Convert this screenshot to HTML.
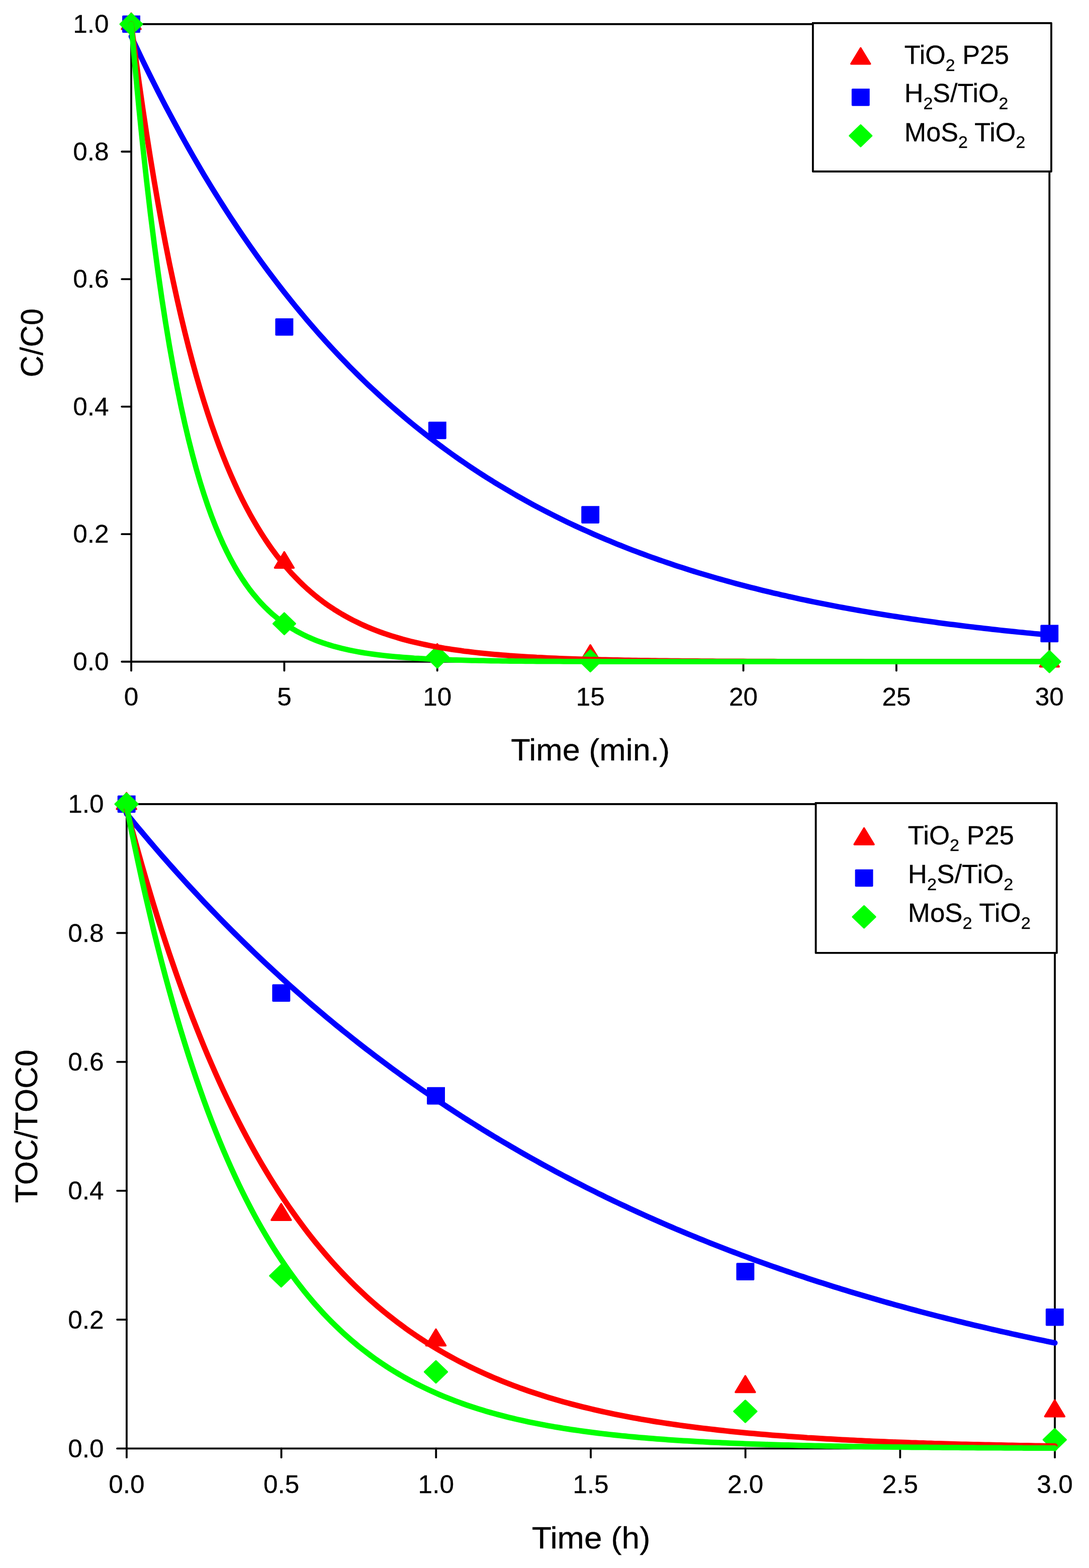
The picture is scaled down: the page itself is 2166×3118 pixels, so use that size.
<!DOCTYPE html>
<html lang="en">
<head>
<meta charset="utf-8">
<title>Degradation and mineralization kinetics</title>
<style>
html,body{margin:0;padding:0;background:#fff;}
body{width:2166px;height:3118px;}
svg{display:block;font-family:"Liberation Sans", sans-serif;}
text{fill:#000;stroke:#000;stroke-width:0.3px;white-space:pre;}
</style>
</head>
<body>
<svg width="2166" height="3118" viewBox="0 0 2166 3118">
<rect width="2166" height="3118" fill="#fff"/>
<g id="chart-c">
<g stroke="#000" stroke-width="3.85" stroke-linecap="round" fill="none">
<path d="M261.05 48.00H2087.30V1315.70H261.05Z" stroke-linejoin="miter"/>
<path d="M261.05 1315.70v17.75"/>
<path d="M565.43 1315.70v17.75"/>
<path d="M869.80 1315.70v17.75"/>
<path d="M1174.18 1315.70v17.75"/>
<path d="M1478.55 1315.70v17.75"/>
<path d="M1782.93 1315.70v17.75"/>
<path d="M2087.30 1315.70v17.75"/>
<path d="M261.05 1315.70h-18.80"/>
<path d="M261.05 1062.16h-18.80"/>
<path d="M261.05 808.62h-18.80"/>
<path d="M261.05 555.08h-18.80"/>
<path d="M261.05 301.54h-18.80"/>
<path d="M261.05 48.00h-18.80"/>
</g>
<text transform="translate(261.05 1403.00) scale(1.0270 1.0180)" font-size="50.00px" text-anchor="middle">0</text>
<text transform="translate(565.43 1403.00) scale(1.0270 1.0180)" font-size="50.00px" text-anchor="middle">5</text>
<text transform="translate(869.80 1403.00) scale(1.0270 1.0180)" font-size="50.00px" text-anchor="middle">10</text>
<text transform="translate(1174.18 1403.00) scale(1.0270 1.0180)" font-size="50.00px" text-anchor="middle">15</text>
<text transform="translate(1478.55 1403.00) scale(1.0270 1.0180)" font-size="50.00px" text-anchor="middle">20</text>
<text transform="translate(1782.93 1403.00) scale(1.0270 1.0180)" font-size="50.00px" text-anchor="middle">25</text>
<text transform="translate(2087.30 1403.00) scale(1.0270 1.0180)" font-size="50.00px" text-anchor="middle">30</text>
<text transform="translate(216.50 1333.00) scale(1.0270 1.0180)" font-size="50.00px" text-anchor="end">0.0</text>
<text transform="translate(216.50 1079.46) scale(1.0270 1.0180)" font-size="50.00px" text-anchor="end">0.2</text>
<text transform="translate(216.50 825.92) scale(1.0270 1.0180)" font-size="50.00px" text-anchor="end">0.4</text>
<text transform="translate(216.50 572.38) scale(1.0270 1.0180)" font-size="50.00px" text-anchor="end">0.6</text>
<text transform="translate(216.50 318.84) scale(1.0270 1.0180)" font-size="50.00px" text-anchor="end">0.8</text>
<text transform="translate(216.50 65.30) scale(1.0270 1.0180)" font-size="50.00px" text-anchor="end">1.0</text>
<text transform="translate(1174.18 1511.80) scale(1.0500 1.0170)" font-size="60.00px" text-anchor="middle">Time (min.)</text>
<text transform="translate(84.85 681.85) rotate(-90) scale(1.0000 1.0400)" font-size="60.00px" text-anchor="middle">C/C0</text>
<path d="M261.05 26.50L280.00 57.90L242.10 57.90Z" fill="#ff0000" stroke="#ff0000" stroke-width="3.60" stroke-linejoin="round"/>
<path d="M565.43 1097.71L584.38 1129.11L546.48 1129.11Z" fill="#ff0000" stroke="#ff0000" stroke-width="3.60" stroke-linejoin="round"/>
<path d="M869.80 1280.76L888.75 1312.16L850.85 1312.16Z" fill="#ff0000" stroke="#ff0000" stroke-width="3.60" stroke-linejoin="round"/>
<path d="M1174.18 1282.79L1193.13 1314.19L1155.23 1314.19Z" fill="#ff0000" stroke="#ff0000" stroke-width="3.60" stroke-linejoin="round"/>
<path d="M2087.30 1294.20L2106.25 1325.60L2068.35 1325.60Z" fill="#ff0000" stroke="#ff0000" stroke-width="3.60" stroke-linejoin="round"/>
<path d="M277.20 32.50H244.90V63.50H277.20V32.50" fill="#0000ff" stroke="#0000ff" stroke-width="3.60" stroke-linejoin="round" stroke-linecap="square"/>
<path d="M581.58 634.78H549.27V665.78H581.58V634.78" fill="#0000ff" stroke="#0000ff" stroke-width="3.60" stroke-linejoin="round" stroke-linecap="square"/>
<path d="M885.95 840.41H853.65V871.41H885.95V840.41" fill="#0000ff" stroke="#0000ff" stroke-width="3.60" stroke-linejoin="round" stroke-linecap="square"/>
<path d="M1190.33 1008.12H1158.03V1039.12H1190.33V1008.12" fill="#0000ff" stroke="#0000ff" stroke-width="3.60" stroke-linejoin="round" stroke-linecap="square"/>
<path d="M2103.45 1244.42H2071.15V1275.42H2103.45V1244.42" fill="#0000ff" stroke="#0000ff" stroke-width="3.60" stroke-linejoin="round" stroke-linecap="square"/>
<path d="M261.05 26.95L282.75 48.00L261.05 69.05L239.35 48.00Z" fill="#00ff00" stroke="#00ff00" stroke-width="3.60" stroke-linejoin="round"/>
<path d="M565.43 1219.22L587.13 1240.27L565.43 1261.32L543.73 1240.27Z" fill="#00ff00" stroke="#00ff00" stroke-width="3.60" stroke-linejoin="round"/>
<path d="M869.80 1285.52L891.50 1306.57L869.80 1327.62L848.10 1306.57Z" fill="#00ff00" stroke="#00ff00" stroke-width="3.60" stroke-linejoin="round"/>
<path d="M1174.18 1293.00L1195.88 1314.05L1174.18 1335.10L1152.48 1314.05Z" fill="#00ff00" stroke="#00ff00" stroke-width="3.60" stroke-linejoin="round"/>
<path d="M2087.30 1294.65L2109.00 1315.70L2087.30 1336.75L2065.60 1315.70Z" fill="#00ff00" stroke="#00ff00" stroke-width="3.60" stroke-linejoin="round"/>
<polyline points="261.1,72.4 268.7,88.6 276.3,104.6 283.9,120.5 291.5,136.1 299.1,151.5 306.7,166.7 314.3,181.8 321.9,196.6 329.5,211.2 337.1,225.6 344.8,239.9 352.4,253.9 360.0,267.8 367.6,281.5 375.2,295.0 382.8,308.4 390.4,321.5 398.0,334.5 405.6,347.4 413.2,360.0 420.8,372.5 428.5,384.8 436.1,397.0 443.7,409.0 451.3,420.9 458.9,432.6 466.5,444.1 474.1,455.5 481.7,466.7 489.3,477.8 496.9,488.8 504.6,499.6 512.2,510.3 519.8,520.8 527.4,531.2 535.0,541.4 542.6,551.6 550.2,561.6 557.8,571.4 565.4,581.1 573.0,590.7 580.6,600.2 588.3,609.6 595.9,618.8 603.5,627.9 611.1,636.9 618.7,645.8 626.3,654.5 633.9,663.2 641.5,671.7 649.1,680.1 656.7,688.4 664.3,696.6 672.0,704.7 679.6,712.7 687.2,720.6 694.8,728.4 702.4,736.0 710.0,743.6 717.6,751.1 725.2,758.5 732.8,765.8 740.4,772.9 748.1,780.0 755.7,787.0 763.3,794.0 770.9,800.8 778.5,807.5 786.1,814.1 793.7,820.7 801.3,827.2 808.9,833.6 816.5,839.9 824.1,846.1 831.8,852.2 839.4,858.3 847.0,864.3 854.6,870.2 862.2,876.0 869.8,881.7 877.4,887.4 885.0,893.0 892.6,898.5 900.2,904.0 907.8,909.4 915.5,914.7 923.1,919.9 930.7,925.1 938.3,930.2 945.9,935.2 953.5,940.2 961.1,945.1 968.7,950.0 976.3,954.7 983.9,959.5 991.6,964.1 999.2,968.7 1006.8,973.2 1014.4,977.7 1022.0,982.1 1029.6,986.5 1037.2,990.8 1044.8,995.0 1052.4,999.2 1060.0,1003.4 1067.6,1007.5 1075.3,1011.5 1082.9,1015.5 1090.5,1019.4 1098.1,1023.3 1105.7,1027.1 1113.3,1030.9 1120.9,1034.6 1128.5,1038.3 1136.1,1041.9 1143.7,1045.5 1151.3,1049.0 1159.0,1052.5 1166.6,1055.9 1174.2,1059.3 1181.8,1062.7 1189.4,1066.0 1197.0,1069.2 1204.6,1072.5 1212.2,1075.6 1219.8,1078.8 1227.4,1081.9 1235.1,1084.9 1242.7,1087.9 1250.3,1090.9 1257.9,1093.9 1265.5,1096.8 1273.1,1099.6 1280.7,1102.4 1288.3,1105.2 1295.9,1108.0 1303.5,1110.7 1311.1,1113.4 1318.8,1116.0 1326.4,1118.6 1334.0,1121.2 1341.6,1123.8 1349.2,1126.3 1356.8,1128.7 1364.4,1131.2 1372.0,1133.6 1379.6,1136.0 1387.2,1138.3 1394.8,1140.6 1402.5,1142.9 1410.1,1145.2 1417.7,1147.4 1425.3,1149.6 1432.9,1151.8 1440.5,1153.9 1448.1,1156.0 1455.7,1158.1 1463.3,1160.2 1470.9,1162.2 1478.6,1164.2 1486.2,1166.2 1493.8,1168.2 1501.4,1170.1 1509.0,1172.0 1516.6,1173.9 1524.2,1175.7 1531.8,1177.6 1539.4,1179.4 1547.0,1181.1 1554.6,1182.9 1562.3,1184.6 1569.9,1186.4 1577.5,1188.0 1585.1,1189.7 1592.7,1191.4 1600.3,1193.0 1607.9,1194.6 1615.5,1196.2 1623.1,1197.7 1630.7,1199.3 1638.3,1200.8 1646.0,1202.3 1653.6,1203.8 1661.2,1205.2 1668.8,1206.7 1676.4,1208.1 1684.0,1209.5 1691.6,1210.9 1699.2,1212.3 1706.8,1213.6 1714.4,1215.0 1722.1,1216.3 1729.7,1217.6 1737.3,1218.9 1744.9,1220.1 1752.5,1221.4 1760.1,1222.6 1767.7,1223.8 1775.3,1225.0 1782.9,1226.2 1790.5,1227.4 1798.1,1228.5 1805.8,1229.7 1813.4,1230.8 1821.0,1231.9 1828.6,1233.0 1836.2,1234.1 1843.8,1235.2 1851.4,1236.2 1859.0,1237.2 1866.6,1238.3 1874.2,1239.3 1881.8,1240.3 1889.5,1241.3 1897.1,1242.2 1904.7,1243.2 1912.3,1244.1 1919.9,1245.1 1927.5,1246.0 1935.1,1246.9 1942.7,1247.8 1950.3,1248.7 1957.9,1249.6 1965.6,1250.4 1973.2,1251.3 1980.8,1252.1 1988.4,1253.0 1996.0,1253.8 2003.6,1254.6 2011.2,1255.4 2018.8,1256.2 2026.4,1257.0 2034.0,1257.7 2041.6,1258.5 2049.3,1259.2 2056.9,1260.0 2064.5,1260.7 2072.1,1261.4 2079.7,1262.1 2087.3,1262.8" fill="none" stroke="#0000ff" stroke-width="10.80" stroke-linecap="round" stroke-linejoin="round"/>
<polyline points="261.1,47.7 268.7,106.1 276.3,161.8 283.9,215.0 291.5,265.7 299.1,314.1 306.7,360.2 314.3,404.2 321.9,446.2 329.5,486.3 337.1,524.5 344.8,560.9 352.4,595.7 360.0,628.9 367.6,660.5 375.2,690.7 382.8,719.5 390.4,747.0 398.0,773.2 405.6,798.2 413.2,822.0 420.8,844.8 428.5,866.4 436.1,887.1 443.7,906.9 451.3,925.7 458.9,943.7 466.5,960.8 474.1,977.2 481.7,992.8 489.3,1007.6 496.9,1021.8 504.6,1035.4 512.2,1048.3 519.8,1060.6 527.4,1072.4 535.0,1083.6 542.6,1094.3 550.2,1104.5 557.8,1114.2 565.4,1123.5 573.0,1132.3 580.6,1140.8 588.3,1148.8 595.9,1156.5 603.5,1163.9 611.1,1170.9 618.7,1177.5 626.3,1183.9 633.9,1190.0 641.5,1195.8 649.1,1201.3 656.7,1206.6 664.3,1211.6 672.0,1216.4 679.6,1221.0 687.2,1225.3 694.8,1229.5 702.4,1233.5 710.0,1237.2 717.6,1240.9 725.2,1244.3 732.8,1247.6 740.4,1250.7 748.1,1253.7 755.7,1256.6 763.3,1259.3 770.9,1261.9 778.5,1264.4 786.1,1266.7 793.7,1269.0 801.3,1271.2 808.9,1273.2 816.5,1275.2 824.1,1277.0 831.8,1278.8 839.4,1280.5 847.0,1282.1 854.6,1283.7 862.2,1285.2 869.8,1286.6 877.4,1287.9 885.0,1289.2 892.6,1290.4 900.2,1291.6 907.8,1292.7 915.5,1293.7 923.1,1294.8 930.7,1295.7 938.3,1296.6 945.9,1297.5 953.5,1298.4 961.1,1299.2 968.7,1299.9 976.3,1300.6 983.9,1301.3 991.6,1302.0 999.2,1302.6 1006.8,1303.2 1014.4,1303.8 1022.0,1304.4 1029.6,1304.9 1037.2,1305.4 1044.8,1305.9 1052.4,1306.3 1060.0,1306.7 1067.6,1307.2 1075.3,1307.5 1082.9,1307.9 1090.5,1308.3 1098.1,1308.6 1105.7,1308.9 1113.3,1309.3 1120.9,1309.6 1128.5,1309.8 1136.1,1310.1 1143.7,1310.4 1151.3,1310.6 1159.0,1310.8 1166.6,1311.1 1174.2,1311.3 1181.8,1311.5 1189.4,1311.7 1197.0,1311.9 1204.6,1312.0 1212.2,1312.2 1219.8,1312.4 1227.4,1312.5 1235.1,1312.7 1242.7,1312.8 1250.3,1312.9 1257.9,1313.1 1265.5,1313.2 1273.1,1313.3 1280.7,1313.4 1288.3,1313.5 1295.9,1313.6 1303.5,1313.7 1311.1,1313.8 1318.8,1313.9 1326.4,1314.0 1334.0,1314.1 1341.6,1314.1 1349.2,1314.2 1356.8,1314.3 1364.4,1314.3 1372.0,1314.4 1379.6,1314.5 1387.2,1314.5 1394.8,1314.6 1402.5,1314.6 1410.1,1314.7 1417.7,1314.7 1425.3,1314.8 1432.9,1314.8 1440.5,1314.9 1448.1,1314.9 1455.7,1314.9 1463.3,1315.0 1470.9,1315.0 1478.6,1315.0 1486.2,1315.1 1493.8,1315.1 1501.4,1315.1 1509.0,1315.1 1516.6,1315.2 1524.2,1315.2 1531.8,1315.2 1539.4,1315.2 1547.0,1315.3 1554.6,1315.3 1562.3,1315.3 1569.9,1315.3 1577.5,1315.3 1585.1,1315.4 1592.7,1315.4 1600.3,1315.4 1607.9,1315.4 1615.5,1315.4 1623.1,1315.4 1630.7,1315.4 1638.3,1315.5 1646.0,1315.5 1653.6,1315.5 1661.2,1315.5 1668.8,1315.5 1676.4,1315.5 1684.0,1315.5 1691.6,1315.5 1699.2,1315.5 1706.8,1315.5 1714.4,1315.5 1722.1,1315.6 1729.7,1315.6 1737.3,1315.6 1744.9,1315.6 1752.5,1315.6 1760.1,1315.6 1767.7,1315.6 1775.3,1315.6 1782.9,1315.6 1790.5,1315.6 1798.1,1315.6 1805.8,1315.6 1813.4,1315.6 1821.0,1315.6 1828.6,1315.6 1836.2,1315.6 1843.8,1315.6 1851.4,1315.6 1859.0,1315.6 1866.6,1315.6 1874.2,1315.6 1881.8,1315.6 1889.5,1315.6 1897.1,1315.6 1904.7,1315.7 1912.3,1315.7 1919.9,1315.7 1927.5,1315.7 1935.1,1315.7 1942.7,1315.7 1950.3,1315.7 1957.9,1315.7 1965.6,1315.7 1973.2,1315.7 1980.8,1315.7 1988.4,1315.7 1996.0,1315.7 2003.6,1315.7 2011.2,1315.7 2018.8,1315.7 2026.4,1315.7 2034.0,1315.7 2041.6,1315.7 2049.3,1315.7 2056.9,1315.7 2064.5,1315.7 2072.1,1315.7 2079.7,1315.7 2087.3,1315.7" fill="none" stroke="#ff0000" stroke-width="10.80" stroke-linecap="round" stroke-linejoin="round"/>
<polyline points="261.1,48.0 268.7,134.1 276.3,214.4 283.9,289.2 291.5,359.0 299.1,424.0 306.7,484.6 314.3,541.0 321.9,593.7 329.5,642.7 337.1,688.4 344.8,731.1 352.4,770.8 360.0,807.8 367.6,842.3 375.2,874.5 382.8,904.4 390.4,932.4 398.0,958.4 405.6,982.7 413.2,1005.3 420.8,1026.4 428.5,1046.1 436.1,1064.4 443.7,1081.5 451.3,1097.4 458.9,1112.2 466.5,1126.0 474.1,1138.9 481.7,1150.9 489.3,1162.1 496.9,1172.6 504.6,1182.3 512.2,1191.3 519.8,1199.8 527.4,1207.7 535.0,1215.0 542.6,1221.9 550.2,1228.2 557.8,1234.2 565.4,1239.7 573.0,1244.9 580.6,1249.7 588.3,1254.2 595.9,1258.3 603.5,1262.2 611.1,1265.9 618.7,1269.3 626.3,1272.4 633.9,1275.4 641.5,1278.1 649.1,1280.7 656.7,1283.0 664.3,1285.3 672.0,1287.3 679.6,1289.3 687.2,1291.0 694.8,1292.7 702.4,1294.3 710.0,1295.7 717.6,1297.1 725.2,1298.4 732.8,1299.5 740.4,1300.6 748.1,1301.7 755.7,1302.6 763.3,1303.5 770.9,1304.3 778.5,1305.1 786.1,1305.8 793.7,1306.5 801.3,1307.1 808.9,1307.7 816.5,1308.2 824.1,1308.8 831.8,1309.2 839.4,1309.7 847.0,1310.1 854.6,1310.5 862.2,1310.8 869.8,1311.1 877.4,1311.5 885.0,1311.7 892.6,1312.0 900.2,1312.3 907.8,1312.5 915.5,1312.7 923.1,1312.9 930.7,1313.1 938.3,1313.3 945.9,1313.4 953.5,1313.6 961.1,1313.7 968.7,1313.9 976.3,1314.0 983.9,1314.1 991.6,1314.2 999.2,1314.3 1006.8,1314.4 1014.4,1314.5 1022.0,1314.6 1029.6,1314.7 1037.2,1314.7 1044.8,1314.8 1052.4,1314.9 1060.0,1314.9 1067.6,1315.0 1075.3,1315.0 1082.9,1315.1 1090.5,1315.1 1098.1,1315.1 1105.7,1315.2 1113.3,1315.2 1120.9,1315.3 1128.5,1315.3 1136.1,1315.3 1143.7,1315.3 1151.3,1315.4 1159.0,1315.4 1166.6,1315.4 1174.2,1315.4 1181.8,1315.4 1189.4,1315.5 1197.0,1315.5 1204.6,1315.5 1212.2,1315.5 1219.8,1315.5 1227.4,1315.5 1235.1,1315.5 1242.7,1315.6 1250.3,1315.6 1257.9,1315.6 1265.5,1315.6 1273.1,1315.6 1280.7,1315.6 1288.3,1315.6 1295.9,1315.6 1303.5,1315.6 1311.1,1315.6 1318.8,1315.6 1326.4,1315.6 1334.0,1315.6 1341.6,1315.6 1349.2,1315.6 1356.8,1315.6 1364.4,1315.7 1372.0,1315.7 1379.6,1315.7 1387.2,1315.7 1394.8,1315.7 1402.5,1315.7 1410.1,1315.7 1417.7,1315.7 1425.3,1315.7 1432.9,1315.7 1440.5,1315.7 1448.1,1315.7 1455.7,1315.7 1463.3,1315.7 1470.9,1315.7 1478.6,1315.7 1486.2,1315.7 1493.8,1315.7 1501.4,1315.7 1509.0,1315.7 1516.6,1315.7 1524.2,1315.7 1531.8,1315.7 1539.4,1315.7 1547.0,1315.7 1554.6,1315.7 1562.3,1315.7 1569.9,1315.7 1577.5,1315.7 1585.1,1315.7 1592.7,1315.7 1600.3,1315.7 1607.9,1315.7 1615.5,1315.7 1623.1,1315.7 1630.7,1315.7 1638.3,1315.7 1646.0,1315.7 1653.6,1315.7 1661.2,1315.7 1668.8,1315.7 1676.4,1315.7 1684.0,1315.7 1691.6,1315.7 1699.2,1315.7 1706.8,1315.7 1714.4,1315.7 1722.1,1315.7 1729.7,1315.7 1737.3,1315.7 1744.9,1315.7 1752.5,1315.7 1760.1,1315.7 1767.7,1315.7 1775.3,1315.7 1782.9,1315.7 1790.5,1315.7 1798.1,1315.7 1805.8,1315.7 1813.4,1315.7 1821.0,1315.7 1828.6,1315.7 1836.2,1315.7 1843.8,1315.7 1851.4,1315.7 1859.0,1315.7 1866.6,1315.7 1874.2,1315.7 1881.8,1315.7 1889.5,1315.7 1897.1,1315.7 1904.7,1315.7 1912.3,1315.7 1919.9,1315.7 1927.5,1315.7 1935.1,1315.7 1942.7,1315.7 1950.3,1315.7 1957.9,1315.7 1965.6,1315.7 1973.2,1315.7 1980.8,1315.7 1988.4,1315.7 1996.0,1315.7 2003.6,1315.7 2011.2,1315.7 2018.8,1315.7 2026.4,1315.7 2034.0,1315.7 2041.6,1315.7 2049.3,1315.7 2056.9,1315.7 2064.5,1315.7 2072.1,1315.7 2079.7,1315.7 2087.3,1315.7" fill="none" stroke="#00ff00" stroke-width="10.80" stroke-linecap="round" stroke-linejoin="round"/>
<path d="M1616.85 46.00H2091.00V341.00H1616.85V46.00" fill="#fff" stroke="#000" stroke-width="3.85" stroke-linejoin="round" stroke-linecap="square"/>
<path d="M1711.80 95.65L1730.75 127.05L1692.85 127.05Z" fill="#ff0000" stroke="#ff0000" stroke-width="3.60" stroke-linejoin="round"/>
<path d="M1727.95 178.00H1695.65V209.00H1727.95V178.00" fill="#0000ff" stroke="#0000ff" stroke-width="3.60" stroke-linejoin="round" stroke-linecap="square"/>
<path d="M1711.80 248.95L1733.50 270.00L1711.80 291.05L1690.10 270.00Z" fill="#00ff00" stroke="#00ff00" stroke-width="3.60" stroke-linejoin="round"/>
<text transform="translate(1798.75 126.90) scale(1.0430 1.0250)" font-size="50.00px" text-anchor="start" xml:space="preserve">TiO<tspan font-size="32.50px" dy="13.37">2</tspan><tspan dy="-13.37"> P25</tspan></text>
<text transform="translate(1798.75 203.40) scale(1.0430 1.0250)" font-size="50.00px" text-anchor="start" xml:space="preserve">H<tspan font-size="32.50px" dy="13.37">2</tspan><tspan dy="-13.37">S/TiO</tspan><tspan font-size="32.50px" dy="13.37">2</tspan></text>
<text transform="translate(1798.75 280.70) scale(1.0430 1.0250)" font-size="50.00px" text-anchor="start" xml:space="preserve">MoS<tspan font-size="32.50px" dy="13.37">2</tspan><tspan dy="-13.37"> TiO</tspan><tspan font-size="32.50px" dy="13.37">2</tspan></text>
</g>
<g id="chart-toc">
<g stroke="#000" stroke-width="3.85" stroke-linecap="round" fill="none">
<path d="M251.90 1599.00H2098.05V2880.40H251.90Z" stroke-linejoin="miter"/>
<path d="M251.90 2880.40v17.75"/>
<path d="M559.59 2880.40v17.75"/>
<path d="M867.28 2880.40v17.75"/>
<path d="M1174.98 2880.40v17.75"/>
<path d="M1482.67 2880.40v17.75"/>
<path d="M1790.36 2880.40v17.75"/>
<path d="M2098.05 2880.40v17.75"/>
<path d="M251.90 2880.40h-18.80"/>
<path d="M251.90 2624.12h-18.80"/>
<path d="M251.90 2367.84h-18.80"/>
<path d="M251.90 2111.56h-18.80"/>
<path d="M251.90 1855.28h-18.80"/>
<path d="M251.90 1599.00h-18.80"/>
</g>
<text transform="translate(251.90 2968.64) scale(1.0270 1.0180)" font-size="50.00px" text-anchor="middle">0.0</text>
<text transform="translate(559.59 2968.64) scale(1.0270 1.0180)" font-size="50.00px" text-anchor="middle">0.5</text>
<text transform="translate(867.28 2968.64) scale(1.0270 1.0180)" font-size="50.00px" text-anchor="middle">1.0</text>
<text transform="translate(1174.98 2968.64) scale(1.0270 1.0180)" font-size="50.00px" text-anchor="middle">1.5</text>
<text transform="translate(1482.67 2968.64) scale(1.0270 1.0180)" font-size="50.00px" text-anchor="middle">2.0</text>
<text transform="translate(1790.36 2968.64) scale(1.0270 1.0180)" font-size="50.00px" text-anchor="middle">2.5</text>
<text transform="translate(2098.05 2968.64) scale(1.0270 1.0180)" font-size="50.00px" text-anchor="middle">3.0</text>
<text transform="translate(206.50 2897.89) scale(1.0270 1.0180)" font-size="50.00px" text-anchor="end">0.0</text>
<text transform="translate(206.50 2641.61) scale(1.0270 1.0180)" font-size="50.00px" text-anchor="end">0.2</text>
<text transform="translate(206.50 2385.33) scale(1.0270 1.0180)" font-size="50.00px" text-anchor="end">0.4</text>
<text transform="translate(206.50 2129.05) scale(1.0270 1.0180)" font-size="50.00px" text-anchor="end">0.6</text>
<text transform="translate(206.50 1872.77) scale(1.0270 1.0180)" font-size="50.00px" text-anchor="end">0.8</text>
<text transform="translate(206.50 1616.49) scale(1.0270 1.0180)" font-size="50.00px" text-anchor="end">1.0</text>
<text transform="translate(1175.58 3078.60) scale(1.0670 1.0170)" font-size="60.00px" text-anchor="middle">Time (h)</text>
<text transform="translate(73.80 2239.70) rotate(-90) scale(1.0135 1.0400)" font-size="60.00px" text-anchor="middle">TOC/TOC0</text>
<path d="M251.65 1576.75L271.10 1609.00L232.20 1609.00Z" fill="#ff0000" stroke="#ff0000" stroke-width="3.60" stroke-linejoin="round"/>
<path d="M559.34 2393.90L578.79 2426.15L539.89 2426.15Z" fill="#ff0000" stroke="#ff0000" stroke-width="3.60" stroke-linejoin="round"/>
<path d="M867.03 2643.39L886.48 2675.64L847.58 2675.64Z" fill="#ff0000" stroke="#ff0000" stroke-width="3.60" stroke-linejoin="round"/>
<path d="M1482.42 2736.16L1501.87 2768.41L1462.97 2768.41Z" fill="#ff0000" stroke="#ff0000" stroke-width="3.60" stroke-linejoin="round"/>
<path d="M2097.80 2784.34L2117.25 2816.59L2078.35 2816.59Z" fill="#ff0000" stroke="#ff0000" stroke-width="3.60" stroke-linejoin="round"/>
<path d="M267.80 1583.45H235.50V1614.55H267.80V1583.45" fill="#0000ff" stroke="#0000ff" stroke-width="3.60" stroke-linejoin="round" stroke-linecap="square"/>
<path d="M575.49 1959.16H543.19V1990.26H575.49V1959.16" fill="#0000ff" stroke="#0000ff" stroke-width="3.60" stroke-linejoin="round" stroke-linecap="square"/>
<path d="M883.18 2163.67H850.88V2194.77H883.18V2163.67" fill="#0000ff" stroke="#0000ff" stroke-width="3.60" stroke-linejoin="round" stroke-linecap="square"/>
<path d="M1498.57 2513.11H1466.27V2544.21H1498.57V2513.11" fill="#0000ff" stroke="#0000ff" stroke-width="3.60" stroke-linejoin="round" stroke-linecap="square"/>
<path d="M2113.95 2603.70H2081.65V2634.80H2113.95V2603.70" fill="#0000ff" stroke="#0000ff" stroke-width="3.60" stroke-linejoin="round" stroke-linecap="square"/>
<path d="M251.65 1577.60L274.00 1599.00L251.65 1620.40L229.30 1599.00Z" fill="#00ff00" stroke="#00ff00" stroke-width="3.60" stroke-linejoin="round"/>
<path d="M559.34 2515.58L581.69 2536.98L559.34 2558.38L536.99 2536.98Z" fill="#00ff00" stroke="#00ff00" stroke-width="3.60" stroke-linejoin="round"/>
<path d="M867.03 2706.64L889.38 2728.04L867.03 2749.44L844.68 2728.04Z" fill="#00ff00" stroke="#00ff00" stroke-width="3.60" stroke-linejoin="round"/>
<path d="M1482.42 2785.06L1504.77 2806.46L1482.42 2827.86L1460.07 2806.46Z" fill="#00ff00" stroke="#00ff00" stroke-width="3.60" stroke-linejoin="round"/>
<path d="M2097.80 2841.57L2120.15 2862.97L2097.80 2884.37L2075.45 2862.97Z" fill="#00ff00" stroke="#00ff00" stroke-width="3.60" stroke-linejoin="round"/>
<polyline points="251.9,1618.2 259.6,1627.6 267.3,1636.9 275.0,1646.2 282.7,1655.4 290.4,1664.5 298.1,1673.6 305.7,1682.5 313.4,1691.5 321.1,1700.3 328.8,1709.1 336.5,1717.8 344.2,1726.5 351.9,1735.1 359.6,1743.6 367.3,1752.1 375.0,1760.5 382.7,1768.8 390.4,1777.1 398.1,1785.3 405.7,1793.4 413.4,1801.5 421.1,1809.6 428.8,1817.5 436.5,1825.5 444.2,1833.3 451.9,1841.1 459.6,1848.9 467.3,1856.5 475.0,1864.2 482.7,1871.7 490.4,1879.2 498.1,1886.7 505.7,1894.1 513.4,1901.4 521.1,1908.7 528.8,1916.0 536.5,1923.1 544.2,1930.3 551.9,1937.3 559.6,1944.4 567.3,1951.3 575.0,1958.3 582.7,1965.1 590.4,1971.9 598.1,1978.7 605.7,1985.4 613.4,1992.1 621.1,1998.7 628.8,2005.3 636.5,2011.8 644.2,2018.2 651.9,2024.7 659.6,2031.0 667.3,2037.4 675.0,2043.6 682.7,2049.9 690.4,2056.0 698.1,2062.2 705.7,2068.3 713.4,2074.3 721.1,2080.3 728.8,2086.3 736.5,2092.2 744.2,2098.1 751.9,2103.9 759.6,2109.7 767.3,2115.4 775.0,2121.1 782.7,2126.8 790.4,2132.4 798.1,2137.9 805.7,2143.5 813.4,2149.0 821.1,2154.4 828.8,2159.8 836.5,2165.2 844.2,2170.5 851.9,2175.8 859.6,2181.0 867.3,2186.2 875.0,2191.4 882.7,2196.5 890.4,2201.6 898.1,2206.7 905.7,2211.7 913.4,2216.7 921.1,2221.6 928.8,2226.5 936.5,2231.4 944.2,2236.2 951.9,2241.0 959.6,2245.8 967.3,2250.5 975.0,2255.2 982.7,2259.9 990.4,2264.5 998.1,2269.1 1005.7,2273.6 1013.4,2278.1 1021.1,2282.6 1028.8,2287.1 1036.5,2291.5 1044.2,2295.9 1051.9,2300.2 1059.6,2304.5 1067.3,2308.8 1075.0,2313.1 1082.7,2317.3 1090.4,2321.5 1098.1,2325.7 1105.7,2329.8 1113.4,2333.9 1121.1,2338.0 1128.8,2342.0 1136.5,2346.0 1144.2,2350.0 1151.9,2353.9 1159.6,2357.9 1167.3,2361.8 1175.0,2365.6 1182.7,2369.4 1190.4,2373.3 1198.1,2377.0 1205.7,2380.8 1213.4,2384.5 1221.1,2388.2 1228.8,2391.9 1236.5,2395.5 1244.2,2399.1 1251.9,2402.7 1259.6,2406.2 1267.3,2409.8 1275.0,2413.3 1282.7,2416.8 1290.4,2420.2 1298.1,2423.6 1305.7,2427.0 1313.4,2430.4 1321.1,2433.8 1328.8,2437.1 1336.5,2440.4 1344.2,2443.7 1351.9,2446.9 1359.6,2450.1 1367.3,2453.3 1375.0,2456.5 1382.7,2459.7 1390.4,2462.8 1398.1,2465.9 1405.7,2469.0 1413.4,2472.1 1421.1,2475.1 1428.8,2478.1 1436.5,2481.1 1444.2,2484.1 1451.9,2487.1 1459.6,2490.0 1467.3,2492.9 1475.0,2495.8 1482.7,2498.6 1490.4,2501.5 1498.1,2504.3 1505.7,2507.1 1513.4,2509.9 1521.1,2512.6 1528.8,2515.4 1536.5,2518.1 1544.2,2520.8 1551.9,2523.5 1559.6,2526.1 1567.3,2528.8 1575.0,2531.4 1582.7,2534.0 1590.4,2536.6 1598.1,2539.1 1605.7,2541.7 1613.4,2544.2 1621.1,2546.7 1628.8,2549.2 1636.5,2551.6 1644.2,2554.1 1651.9,2556.5 1659.6,2558.9 1667.3,2561.3 1675.0,2563.7 1682.7,2566.1 1690.4,2568.4 1698.1,2570.7 1705.7,2573.0 1713.4,2575.3 1721.1,2577.6 1728.8,2579.8 1736.5,2582.1 1744.2,2584.3 1751.9,2586.5 1759.6,2588.7 1767.3,2590.9 1775.0,2593.0 1782.7,2595.2 1790.4,2597.3 1798.1,2599.4 1805.7,2601.5 1813.4,2603.6 1821.1,2605.6 1828.8,2607.7 1836.5,2609.7 1844.2,2611.7 1851.9,2613.7 1859.6,2615.7 1867.3,2617.7 1875.0,2619.6 1882.7,2621.6 1890.4,2623.5 1898.1,2625.4 1905.7,2627.3 1913.4,2629.2 1921.1,2631.1 1928.8,2632.9 1936.5,2634.8 1944.2,2636.6 1951.9,2638.4 1959.6,2640.2 1967.3,2642.0 1975.0,2643.8 1982.7,2645.5 1990.4,2647.3 1998.1,2649.0 2005.7,2650.7 2013.4,2652.5 2021.1,2654.2 2028.8,2655.8 2036.5,2657.5 2044.2,2659.2 2051.9,2660.8 2059.6,2662.5 2067.3,2664.1 2075.0,2665.7 2082.7,2667.3 2090.4,2668.9 2098.1,2670.4" fill="none" stroke="#0000ff" stroke-width="11.00" stroke-linecap="round" stroke-linejoin="round"/>
<polyline points="251.9,1609.5 259.6,1638.6 267.3,1667.0 275.0,1694.8 282.7,1721.9 290.4,1748.5 298.1,1774.4 305.7,1799.7 313.4,1824.5 321.1,1848.6 328.8,1872.3 336.5,1895.4 344.2,1917.9 351.9,1940.0 359.6,1961.5 367.3,1982.5 375.0,2003.1 382.7,2023.2 390.4,2042.8 398.1,2062.0 405.7,2080.7 413.4,2099.1 421.1,2116.9 428.8,2134.4 436.5,2151.5 444.2,2168.2 451.9,2184.5 459.6,2200.4 467.3,2216.0 475.0,2231.2 482.7,2246.1 490.4,2260.6 498.1,2274.8 505.7,2288.7 513.4,2302.2 521.1,2315.5 528.8,2328.4 536.5,2341.1 544.2,2353.4 551.9,2365.5 559.6,2377.3 567.3,2388.8 575.0,2400.0 582.7,2411.0 590.4,2421.8 598.1,2432.3 605.7,2442.6 613.4,2452.6 621.1,2462.4 628.8,2472.0 636.5,2481.3 644.2,2490.4 651.9,2499.4 659.6,2508.1 667.3,2516.6 675.0,2525.0 682.7,2533.1 690.4,2541.0 698.1,2548.8 705.7,2556.4 713.4,2563.8 721.1,2571.1 728.8,2578.2 736.5,2585.1 744.2,2591.8 751.9,2598.5 759.6,2604.9 767.3,2611.2 775.0,2617.4 782.7,2623.4 790.4,2629.3 798.1,2635.0 805.7,2640.7 813.4,2646.2 821.1,2651.5 828.8,2656.8 836.5,2661.9 844.2,2666.9 851.9,2671.8 859.6,2676.6 867.3,2681.2 875.0,2685.8 882.7,2690.2 890.4,2694.6 898.1,2698.8 905.7,2703.0 913.4,2707.1 921.1,2711.0 928.8,2714.9 936.5,2718.7 944.2,2722.4 951.9,2726.0 959.6,2729.6 967.3,2733.0 975.0,2736.4 982.7,2739.7 990.4,2742.9 998.1,2746.1 1005.7,2749.1 1013.4,2752.1 1021.1,2755.1 1028.8,2757.9 1036.5,2760.8 1044.2,2763.5 1051.9,2766.2 1059.6,2768.8 1067.3,2771.3 1075.0,2773.8 1082.7,2776.3 1090.4,2778.7 1098.1,2781.0 1105.7,2783.3 1113.4,2785.5 1121.1,2787.7 1128.8,2789.8 1136.5,2791.9 1144.2,2793.9 1151.9,2795.9 1159.6,2797.8 1167.3,2799.7 1175.0,2801.5 1182.7,2803.4 1190.4,2805.1 1198.1,2806.8 1205.7,2808.5 1213.4,2810.2 1221.1,2811.8 1228.8,2813.4 1236.5,2814.9 1244.2,2816.4 1251.9,2817.9 1259.6,2819.3 1267.3,2820.7 1275.0,2822.1 1282.7,2823.4 1290.4,2824.7 1298.1,2826.0 1305.7,2827.2 1313.4,2828.4 1321.1,2829.6 1328.8,2830.8 1336.5,2831.9 1344.2,2833.0 1351.9,2834.1 1359.6,2835.2 1367.3,2836.2 1375.0,2837.2 1382.7,2838.2 1390.4,2839.2 1398.1,2840.1 1405.7,2841.0 1413.4,2841.9 1421.1,2842.8 1428.8,2843.7 1436.5,2844.5 1444.2,2845.4 1451.9,2846.2 1459.6,2846.9 1467.3,2847.7 1475.0,2848.5 1482.7,2849.2 1490.4,2849.9 1498.1,2850.6 1505.7,2851.3 1513.4,2851.9 1521.1,2852.6 1528.8,2853.2 1536.5,2853.9 1544.2,2854.5 1551.9,2855.1 1559.6,2855.6 1567.3,2856.2 1575.0,2856.8 1582.7,2857.3 1590.4,2857.8 1598.1,2858.3 1605.7,2858.9 1613.4,2859.3 1621.1,2859.8 1628.8,2860.3 1636.5,2860.8 1644.2,2861.2 1651.9,2861.6 1659.6,2862.1 1667.3,2862.5 1675.0,2862.9 1682.7,2863.3 1690.4,2863.7 1698.1,2864.1 1705.7,2864.5 1713.4,2864.8 1721.1,2865.2 1728.8,2865.5 1736.5,2865.9 1744.2,2866.2 1751.9,2866.5 1759.6,2866.8 1767.3,2867.2 1775.0,2867.5 1782.7,2867.8 1790.4,2868.0 1798.1,2868.3 1805.7,2868.6 1813.4,2868.9 1821.1,2869.1 1828.8,2869.4 1836.5,2869.6 1844.2,2869.9 1851.9,2870.1 1859.6,2870.4 1867.3,2870.6 1875.0,2870.8 1882.7,2871.0 1890.4,2871.3 1898.1,2871.5 1905.7,2871.7 1913.4,2871.9 1921.1,2872.1 1928.8,2872.3 1936.5,2872.4 1944.2,2872.6 1951.9,2872.8 1959.6,2873.0 1967.3,2873.1 1975.0,2873.3 1982.7,2873.5 1990.4,2873.6 1998.1,2873.8 2005.7,2873.9 2013.4,2874.1 2021.1,2874.2 2028.8,2874.4 2036.5,2874.5 2044.2,2874.6 2051.9,2874.8 2059.6,2874.9 2067.3,2875.0 2075.0,2875.2 2082.7,2875.3 2090.4,2875.4 2098.1,2875.5" fill="none" stroke="#ff0000" stroke-width="11.00" stroke-linecap="round" stroke-linejoin="round"/>
<polyline points="251.9,1604.1 259.6,1642.6 267.3,1680.0 275.0,1716.2 282.7,1751.3 290.4,1785.3 298.1,1818.3 305.7,1850.4 313.4,1881.4 321.1,1911.6 328.8,1940.8 336.5,1969.1 344.2,1996.6 351.9,2023.3 359.6,2049.1 367.3,2074.2 375.0,2098.5 382.7,2122.1 390.4,2144.9 398.1,2167.1 405.7,2188.6 413.4,2209.5 421.1,2229.7 428.8,2249.3 436.5,2268.4 444.2,2286.8 451.9,2304.7 459.6,2322.1 467.3,2338.9 475.0,2355.3 482.7,2371.1 490.4,2386.5 498.1,2401.4 505.7,2415.8 513.4,2429.8 521.1,2443.4 528.8,2456.6 536.5,2469.4 544.2,2481.8 551.9,2493.8 559.6,2505.4 567.3,2516.7 575.0,2527.7 582.7,2538.3 590.4,2548.7 598.1,2558.7 605.7,2568.4 613.4,2577.8 621.1,2586.9 628.8,2595.8 636.5,2604.3 644.2,2612.7 651.9,2620.7 659.6,2628.6 667.3,2636.2 675.0,2643.5 682.7,2650.7 690.4,2657.6 698.1,2664.3 705.7,2670.8 713.4,2677.2 721.1,2683.3 728.8,2689.2 736.5,2695.0 744.2,2700.6 751.9,2706.0 759.6,2711.3 767.3,2716.4 775.0,2721.3 782.7,2726.1 790.4,2730.8 798.1,2735.3 805.7,2739.7 813.4,2743.9 821.1,2748.0 828.8,2752.0 836.5,2755.9 844.2,2759.6 851.9,2763.3 859.6,2766.8 867.3,2770.2 875.0,2773.6 882.7,2776.8 890.4,2779.9 898.1,2782.9 905.7,2785.9 913.4,2788.7 921.1,2791.5 928.8,2794.2 936.5,2796.8 944.2,2799.3 951.9,2801.7 959.6,2804.1 967.3,2806.4 975.0,2808.6 982.7,2810.8 990.4,2812.9 998.1,2814.9 1005.7,2816.9 1013.4,2818.8 1021.1,2820.7 1028.8,2822.5 1036.5,2824.2 1044.2,2825.9 1051.9,2827.6 1059.6,2829.2 1067.3,2830.7 1075.0,2832.2 1082.7,2833.7 1090.4,2835.1 1098.1,2836.4 1105.7,2837.8 1113.4,2839.0 1121.1,2840.3 1128.8,2841.5 1136.5,2842.7 1144.2,2843.8 1151.9,2844.9 1159.6,2846.0 1167.3,2847.0 1175.0,2848.0 1182.7,2849.0 1190.4,2850.0 1198.1,2850.9 1205.7,2851.8 1213.4,2852.6 1221.1,2853.5 1228.8,2854.3 1236.5,2855.1 1244.2,2855.8 1251.9,2856.6 1259.6,2857.3 1267.3,2858.0 1275.0,2858.7 1282.7,2859.3 1290.4,2860.0 1298.1,2860.6 1305.7,2861.2 1313.4,2861.7 1321.1,2862.3 1328.8,2862.9 1336.5,2863.4 1344.2,2863.9 1351.9,2864.4 1359.6,2864.9 1367.3,2865.3 1375.0,2865.8 1382.7,2866.2 1390.4,2866.7 1398.1,2867.1 1405.7,2867.5 1413.4,2867.9 1421.1,2868.3 1428.8,2868.6 1436.5,2869.0 1444.2,2869.3 1451.9,2869.7 1459.6,2870.0 1467.3,2870.3 1475.0,2870.6 1482.7,2870.9 1490.4,2871.2 1498.1,2871.5 1505.7,2871.7 1513.4,2872.0 1521.1,2872.2 1528.8,2872.5 1536.5,2872.7 1544.2,2873.0 1551.9,2873.2 1559.6,2873.4 1567.3,2873.6 1575.0,2873.8 1582.7,2874.0 1590.4,2874.2 1598.1,2874.4 1605.7,2874.6 1613.4,2874.7 1621.1,2874.9 1628.8,2875.1 1636.5,2875.2 1644.2,2875.4 1651.9,2875.6 1659.6,2875.7 1667.3,2875.8 1675.0,2876.0 1682.7,2876.1 1690.4,2876.2 1698.1,2876.4 1705.7,2876.5 1713.4,2876.6 1721.1,2876.7 1728.8,2876.8 1736.5,2876.9 1744.2,2877.0 1751.9,2877.1 1759.6,2877.2 1767.3,2877.3 1775.0,2877.4 1782.7,2877.5 1790.4,2877.6 1798.1,2877.7 1805.7,2877.8 1813.4,2877.9 1821.1,2877.9 1828.8,2878.0 1836.5,2878.1 1844.2,2878.1 1851.9,2878.2 1859.6,2878.3 1867.3,2878.3 1875.0,2878.4 1882.7,2878.5 1890.4,2878.5 1898.1,2878.6 1905.7,2878.6 1913.4,2878.7 1921.1,2878.7 1928.8,2878.8 1936.5,2878.8 1944.2,2878.9 1951.9,2878.9 1959.6,2879.0 1967.3,2879.0 1975.0,2879.1 1982.7,2879.1 1990.4,2879.1 1998.1,2879.2 2005.7,2879.2 2013.4,2879.3 2021.1,2879.3 2028.8,2879.3 2036.5,2879.4 2044.2,2879.4 2051.9,2879.4 2059.6,2879.4 2067.3,2879.5 2075.0,2879.5 2082.7,2879.5 2090.4,2879.6 2098.1,2879.6" fill="none" stroke="#00ff00" stroke-width="11.00" stroke-linecap="round" stroke-linejoin="round"/>
<path d="M1622.60 1597.00H2101.85V1894.90H1622.60V1597.00" fill="#fff" stroke="#000" stroke-width="3.85" stroke-linejoin="round" stroke-linecap="square"/>
<path d="M1718.60 1646.85L1738.05 1679.10L1699.15 1679.10Z" fill="#ff0000" stroke="#ff0000" stroke-width="3.60" stroke-linejoin="round"/>
<path d="M1734.75 1730.45H1702.45V1761.55H1734.75V1730.45" fill="#0000ff" stroke="#0000ff" stroke-width="3.60" stroke-linejoin="round" stroke-linecap="square"/>
<path d="M1718.60 1801.80L1740.95 1823.20L1718.60 1844.60L1696.25 1823.20Z" fill="#00ff00" stroke="#00ff00" stroke-width="3.60" stroke-linejoin="round"/>
<text transform="translate(1805.85 1678.50) scale(1.0465 1.0250)" font-size="50.54px" text-anchor="start" xml:space="preserve">TiO<tspan font-size="32.85px" dy="13.51">2</tspan><tspan dy="-13.51"> P25</tspan></text>
<text transform="translate(1805.85 1756.40) scale(1.0465 1.0250)" font-size="50.54px" text-anchor="start" xml:space="preserve">H<tspan font-size="32.85px" dy="13.51">2</tspan><tspan dy="-13.51">S/TiO</tspan><tspan font-size="32.85px" dy="13.51">2</tspan></text>
<text transform="translate(1805.85 1833.30) scale(1.0465 1.0250)" font-size="50.54px" text-anchor="start" xml:space="preserve">MoS<tspan font-size="32.85px" dy="13.51">2</tspan><tspan dy="-13.51"> TiO</tspan><tspan font-size="32.85px" dy="13.51">2</tspan></text>
</g>
</svg>
</body>
</html>
